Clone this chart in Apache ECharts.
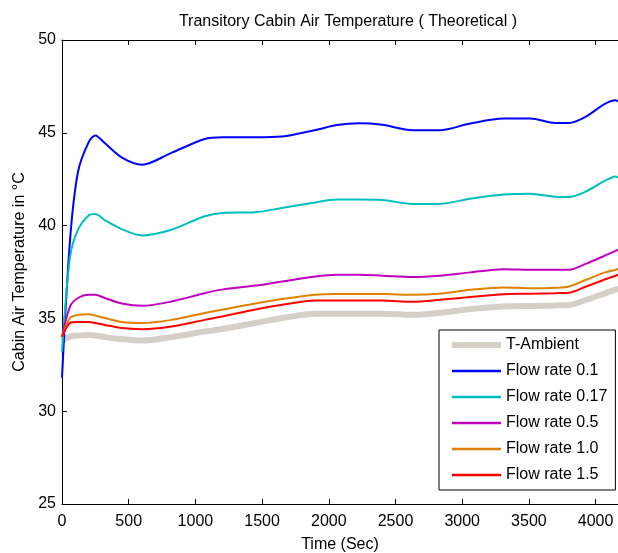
<!DOCTYPE html>
<html>
<head>
<meta charset="utf-8">
<script src="https://cdn.jsdelivr.net/npm/echarts@6/dist/echarts.min.js"></script>
<style>
  html, body { margin: 0; padding: 0; background: #fff; }
  #chart { width: 618px; height: 553px; }
</style>
</head>
<body>
<div id="chart"></div>
<script>
// time samples (s) shared by all curves
const timeSec = [0, 60, 120, 200, 250, 320, 450, 600, 820, 1070, 1200, 1450, 1650, 1900, 2060, 2230, 2400, 2630, 2830, 3060, 3310, 3510, 3700, 3800, 3930, 4060, 4150, 4170];

// temperatures in °C
const tAmbient = [33.8, 34.02, 34.08, 34.11, 34.08, 33.99, 33.88, 33.81, 33.99, 34.29, 34.43, 34.75, 35.02, 35.25, 35.25, 35.25, 35.25, 35.19, 35.3, 35.5, 35.64, 35.67, 35.7, 35.72, 36.0, 36.32, 36.55, 36.58];
const flow01 = [31.8, 39.2, 42.9, 44.5, 44.86, 44.45, 43.66, 43.28, 43.92, 44.67, 44.76, 44.76, 44.8, 45.15, 45.42, 45.51, 45.43, 45.14, 45.14, 45.5, 45.77, 45.77, 45.53, 45.53, 45.88, 46.52, 46.75, 46.68];
const flow017 = [33.2, 38.3, 39.78, 40.55, 40.62, 40.3, 39.8, 39.47, 39.78, 40.5, 40.68, 40.72, 40.95, 41.25, 41.4, 41.4, 41.38, 41.17, 41.17, 41.45, 41.67, 41.72, 41.55, 41.54, 41.85, 42.38, 42.65, 42.6];
const flow05 = [34.0, 35.64, 36.1, 36.27, 36.27, 36.1, 35.8, 35.68, 35.91, 36.36, 36.55, 36.77, 36.99, 37.26, 37.35, 37.35, 37.3, 37.23, 37.3, 37.48, 37.65, 37.62, 37.62, 37.62, 37.95, 38.35, 38.64, 38.7];
const flow10 = [34.0, 35.02, 35.19, 35.23, 35.15, 35.02, 34.8, 34.75, 34.92, 35.29, 35.47, 35.8, 36.04, 36.28, 36.31, 36.31, 36.31, 36.27, 36.33, 36.54, 36.67, 36.62, 36.65, 36.72, 37.08, 37.45, 37.62, 37.66];
const flow15 = [34.0, 34.75, 34.8, 34.8, 34.75, 34.65, 34.48, 34.42, 34.56, 34.92, 35.1, 35.48, 35.73, 35.96, 35.96, 35.96, 35.96, 35.9, 36.0, 36.15, 36.3, 36.33, 36.36, 36.38, 36.72, 37.07, 37.3, 37.35];

const seriesNames = ['T-Ambient', 'Flow rate 0.1', 'Flow rate 0.17', 'Flow rate 0.5', 'Flow rate 1.0', 'Flow rate 1.5'];
const seriesValues = [tAmbient, flow01, flow017, flow05, flow10, flow15];
const seriesColors = ['#d4d0c8', '#0000ff', '#00bfbf', '#bf00bf', '#e08000', '#ff0000'];
const seriesWidths = [6, 2, 2, 2, 2, 2];

const FONT = 'Liberation Sans, Arial, sans-serif';

const chart = echarts.init(document.getElementById('chart'));

const series = seriesNames.map((name, i) => ({
  name,
  type: 'line',
  xAxisIndex: 0,
  yAxisIndex: 0,
  data: timeSec.map((t, k) => [t, seriesValues[i][k]]),
  symbol: 'none',
  smooth: 0.3,
  lineStyle: { color: seriesColors[i], width: seriesWidths[i] },
  itemStyle: { color: seriesColors[i] },
  emphasis: { disabled: true },
  z: 2 + i,
}));

const tickStyle = { show: true, inside: true, length: 5, lineStyle: { color: '#000' } };

chart.setOption({
  animation: false,
  backgroundColor: '#fff',
  textStyle: { fontFamily: FONT },
  title: {
    text: 'Transitory Cabin Air Temperature ( Theoretical )',
    left: 343,
    textAlign: 'center',
    top: 9,
    textStyle: { fontFamily: FONT, fontSize: 16, fontWeight: 'normal', color: '#000' },
  },
  grid: { left: 62, right: 0, top: 40, bottom: 49, containLabel: false, outerBoundsMode: 'none' },
  legend: {
    orient: 'vertical',
    left: 439,
    top: 330,
    padding: [7, 8, 7, 10],
    itemGap: 10,
    itemWidth: 49,
    itemHeight: 14,
    backgroundColor: '#fff',
    borderColor: '#000',
    borderWidth: 1,
    borderRadius: 0,
    itemStyle: { opacity: 0 },
    textStyle: { fontFamily: FONT, fontSize: 16, color: '#000' },
    data: seriesNames.map((name, i) => ({
      name,
      itemStyle: { opacity: 0 },
      lineStyle: { width: seriesWidths[i] + (i === 0 ? 0 : 0.5), color: seriesColors[i] },
    })),
  },
  xAxis: [
    {
      type: 'value',
      min: 0,
      max: 4168,
      interval: 500,
      name: 'Time (Sec)',
      nameLocation: 'middle',
      nameGap: 33,
      nameTextStyle: { fontFamily: FONT, fontSize: 16, color: '#000' },
      axisLine: { show: true, onZero: false, lineStyle: { color: '#000', width: 1 } },
      axisTick: tickStyle,
      axisLabel: {
        fontFamily: FONT, fontSize: 16, color: '#000', margin: 10,
        showMaxLabel: false,
        formatter: (v) => (v % 500 === 0 ? String(v) : ''),
      },
      splitLine: { show: false },
    },
    {
      type: 'value',
      position: 'top',
      min: 0,
      max: 4168,
      interval: 500,
      axisLine: { show: true, onZero: false, lineStyle: { color: '#000', width: 1 } },
      axisTick: tickStyle,
      axisLabel: { show: false },
      splitLine: { show: false },
    },
  ],
  yAxis: [
    {
      type: 'value',
      min: 25,
      max: 50,
      interval: 5,
      name: 'Cabin Air Temperature in °C',
      nameLocation: 'middle',
      nameGap: 32,
      nameTextStyle: { fontFamily: FONT, fontSize: 16, color: '#000' },
      axisLine: { show: true, onZero: false, lineStyle: { color: '#000', width: 1 } },
      axisTick: tickStyle,
      axisLabel: { fontFamily: FONT, fontSize: 16, color: '#000', margin: 6 },
      splitLine: { show: false },
    },
  ],
  series,
});
</script>
</body>
</html>
